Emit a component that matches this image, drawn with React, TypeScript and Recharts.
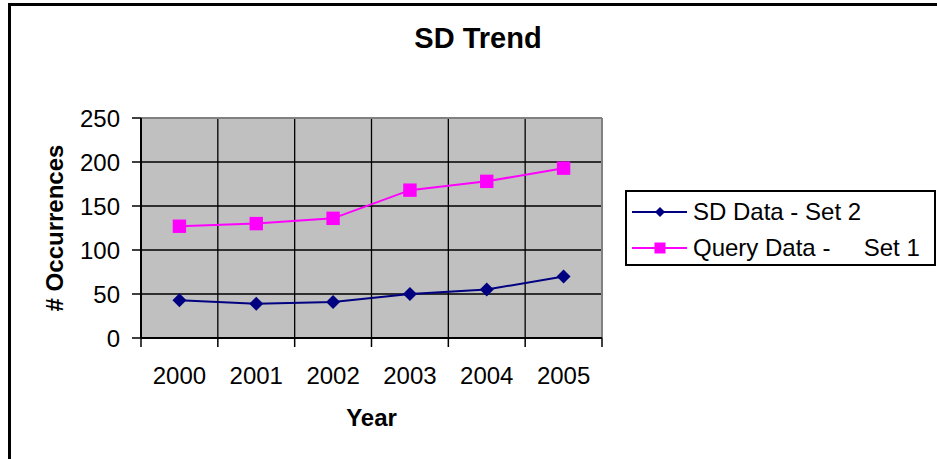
import React from 'react';
import { LineChart, Line, XAxis, YAxis, CartesianGrid, Legend, ReferenceLine, Label } from 'recharts';

const years = ['2000', '2001', '2002', '2003', '2004', '2005'];
const sdValues = [43, 39, 41, 50, 55, 70];
const queryValues = [127, 130, 136, 168, 178, 193];
const yTicks = [0, 50, 100, 150, 200, 250];
const SD_NAME = 'SD Data - Set 2';
const QUERY_NAME = 'Query Data -     Set 1';
const SD_COLOR = '#000080';
const QUERY_COLOR = '#FF00FF';
const legendOrder = ['sd', 'query'];

const yearNums = years.map((y) => Number(y));
// category boundaries (half a year either side of each category)
const boundaryTicks = [...yearNums.map((y) => y - 0.5), yearNums[yearNums.length - 1] + 0.5];
const xDomain = [boundaryTicks[0], boundaryTicks[boundaryTicks.length - 1]];

const data = years.map((year, i) => ({ year, yr: yearNums[i], sd: sdValues[i], query: queryValues[i] }));

const FONT = '"Liberation Sans", Arial, sans-serif';

const EmptyTick = (props: any) => <g />;

const renderDiamond = (props: any) => {
  const { cx, cy, index } = props;
  if (cx == null || cy == null) return <g key={`d${index}`} />;
  const r = 7;
  return (
    <polygon
      key={`d${index}`}
      points={`${cx},${cy - r} ${cx + r},${cy} ${cx},${cy + r} ${cx - r},${cy}`}
      fill={SD_COLOR}
    />
  );
};

const renderSquare = (props: any) => {
  const { cx, cy, index } = props;
  if (cx == null || cy == null) return <g key={`s${index}`} />;
  const h = 6.7;
  return <rect key={`s${index}`} x={cx - h} y={cy - h} width={2 * h} height={2 * h} fill={QUERY_COLOR} />;
};

const YLabel = (props: any) => {
  const vb = props.viewBox || {};
  const x = (vb.x || 0) + 54;
  const y = (vb.y || 0) + (vb.height || 0) / 2;
  return (
    <text
      x={x}
      y={y}
      transform={`rotate(-90, ${x}, ${y})`}
      textAnchor="middle"
      dominantBaseline="central"
      style={{ fontSize: 24, fontWeight: 'bold', fill: '#000', fontFamily: FONT }}
    >
      # Occurrences
    </text>
  );
};

const LegendContent = (props: any) => {
  const payload = [...(props.payload || [])].sort(
    (a: any, b: any) => legendOrder.indexOf(a.dataKey) - legendOrder.indexOf(b.dataKey)
  );
  return (
    <div
      style={{
        boxSizing: 'border-box',
        width: 311,
        height: 76,
        border: '2px solid #000',
        paddingTop: 2,
        paddingLeft: 5,
        fontFamily: FONT,
        fontSize: 24,
        color: '#000',
        background: '#fff',
      }}
    >
      {payload.map((entry: any) => {
        const isSd = entry.dataKey === 'sd';
        const color = isSd ? SD_COLOR : QUERY_COLOR;
        return (
          <div key={entry.dataKey} style={{ display: 'flex', alignItems: 'center', height: 36, lineHeight: '36px' }}>
            <svg width={56} height={36} style={{ display: 'block', flex: '0 0 auto' }}>
              <line x1={0} y1={18} x2={55} y2={18} stroke={color} strokeWidth={2} />
              {isSd ? (
                <polygon points="28,13 33,18 28,23 23,18" fill={color} />
              ) : (
                <rect x={22.5} y={12.5} width={11} height={11} fill={color} />
              )}
            </svg>
            <span style={{ marginLeft: 5, whiteSpace: 'pre' }}>{entry.value}</span>
          </div>
        );
      })}
    </div>
  );
};

export default function App() {
  return (
    <div
      style={{
        position: 'absolute',
        left: 0,
        top: 0,
        width: 937,
        height: 459,
        overflow: 'hidden',
        background: '#fff',
        fontFamily: FONT,
      }}
    >
      <div
        style={{
          position: 'absolute',
          left: 8,
          top: 3,
          width: 2000,
          height: 2000,
          borderTop: '3px solid #000',
          borderLeft: '3px solid #000',
        }}
      />
      <div
        style={{
          position: 'absolute',
          left: 378,
          top: 24,
          width: 200,
          textAlign: 'center',
          fontSize: 29,
          fontWeight: 'bold',
          lineHeight: '1',
          color: '#000',
        }}
      >
        SD Trend
      </div>
      <div style={{ position: 'absolute', left: 0, top: 0 }}>
        <LineChart width={937} height={459} data={data} margin={{ top: 118, right: 335, bottom: 28, left: 0 }}>
          <CartesianGrid xAxisId="b" stroke="#000" strokeWidth={1.3} fill="#C0C0C0" fillOpacity={1} />
          <XAxis
            xAxisId="b"
            dataKey="yr"
            type="number"
            domain={xDomain}
            ticks={boundaryTicks}
            interval={0}
            allowDataOverflow
            tick={EmptyTick}
            tickLine={{ stroke: '#000', strokeWidth: 1.5 }}
            tickSize={9}
            axisLine={{ stroke: '#000', strokeWidth: 2 }}
            height={1}
          />
          <XAxis
            xAxisId="cat"
            dataKey="year"
            type="category"
            scale="band"
            interval={0}
            tickLine={false}
            axisLine={false}
            tickSize={0}
            tickMargin={28}
            height={92}
            tick={{ fontSize: 24, fill: '#000' }}
          >
            <Label value="Year" position="insideBottom" offset={5} style={{ fontSize: 24, fontWeight: 'bold', fill: '#000' }} />
          </XAxis>
          <YAxis
            domain={[0, 250]}
            ticks={yTicks}
            interval={0}
            width={141}
            tickSize={9}
            tickMargin={12}
            tickLine={{ stroke: '#000', strokeWidth: 1.5 }}
            axisLine={{ stroke: '#000', strokeWidth: 2 }}
            tick={{ fontSize: 24, fill: '#000' }}
          >
            <Label content={YLabel} />
          </YAxis>
          <ReferenceLine xAxisId="b" y={250} stroke="#808080" strokeWidth={2} />
          <ReferenceLine xAxisId="b" x={xDomain[1]} stroke="#808080" strokeWidth={2} />
          <Legend
            layout="horizontal"
            align="center"
            verticalAlign="middle"
            content={LegendContent}
            wrapperStyle={{ left: 625, top: 190, width: 311, height: 76, right: 'auto', bottom: 'auto' }}
          />
          <Line
            xAxisId="b"
            dataKey="sd"
            name={SD_NAME}
            stroke={SD_COLOR}
            strokeWidth={2}
            dot={renderDiamond}
            activeDot={false}
            isAnimationActive={false}
          />
          <Line
            xAxisId="b"
            dataKey="query"
            name={QUERY_NAME}
            stroke={QUERY_COLOR}
            strokeWidth={2}
            dot={renderSquare}
            activeDot={false}
            isAnimationActive={false}
          />
        </LineChart>
      </div>
    </div>
  );
}
